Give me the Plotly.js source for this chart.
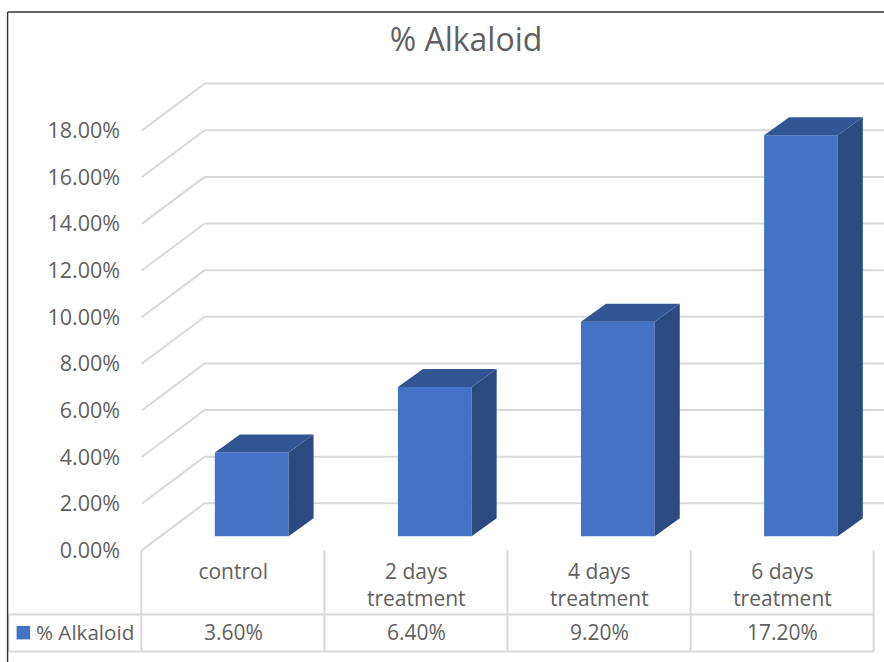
<!DOCTYPE html>
<html>
<head>
<meta charset="utf-8">
<script src="https://cdn.plot.ly/plotly-3.0.1.min.js"></script>
<style>html,body{margin:0;padding:0;background:#fff;overflow:hidden}</style>
</head>
<body>
<div id="chart" style="width:884px;height:662px"></div>
<script>
const categories = ["control", "2 days<br>treatment", "4 days<br>treatment", "6 days<br>treatment"];
const alkaloid = [0.036, 0.064, 0.092, 0.172];
const yTicks = [0, 0.02, 0.04, 0.06, 0.08, 0.10, 0.12, 0.14, 0.16, 0.18];
const seriesName = "% Alkaloid";

const W = 884, H = 662, pxX = 183, pxY = 2330;
const FONT = '"Open Sans", sans-serif', TEXT = "#5F5F5F", GRID = "#D9D9D9";
const xMin = -0.52, xMax = xMin + (W - 138.34) / pxX;
const yMin = -0.002, plotTop = 60, plotBottom = 550 - yMin * pxY;
const yMax = (plotBottom - plotTop) / pxY + yMin;
const wallDx = 63 / pxX, wallDy = 47 / pxY;
const barShift = 18.5 / pxX, barBase = 14 / pxY, barW = 73.7 / pxX;
const depthX = 25 / pxX, depthY = 18 / pxY;
const idx = categories.map((_, i) => i);

const px = v => (v - 138.34) / (W - 138.34);
const py = v => (plotBottom - v) / (plotBottom - plotTop);
const colEdge = i => 141.66 + i * pxX;

const shapes = [];
yTicks.forEach(v => {
  shapes.push({type: "line", layer: "below", xref: "x", yref: "y", x0: -0.5, y0: v, x1: -0.5 + wallDx, y1: v + wallDy, line: {color: GRID, width: 2}});
  shapes.push({type: "line", layer: "below", xref: "x", yref: "y", x0: -0.5 + wallDx, y0: v + wallDy, x1: xMax, y1: v + wallDy, line: {color: GRID, width: 2}});
});
function tableLine(x0, y0, x1, y1) {
  shapes.push({type: "line", layer: "below", xref: "paper", yref: "paper", x0: px(x0), y0: py(y0), x1: px(x1), y1: py(y1), line: {color: GRID, width: 2}});
}
[0, 1, 2, 3, 4].forEach(i => tableLine(colEdge(i), 550, colEdge(i), 651));
tableLine(9, 614, colEdge(4), 614);
tableLine(9, 651, colEdge(4), 651);
tableLine(9, 614, 9, 651);
// picture frame
shapes.push({type: "line", xref: "paper", yref: "paper", x0: px(8), y0: py(12), x1: px(884), y1: py(12), line: {color: "#333333", width: 1.4}});
shapes.push({type: "line", xref: "paper", yref: "paper", x0: px(8), y0: py(12), x1: px(8), y1: py(662), line: {color: "#333333", width: 1.4}});
// legend key
shapes.push({type: "rect", xref: "paper", yref: "paper", x0: px(17), x1: px(30.5), y0: py(625.5), y1: py(639), fillcolor: "#4472C4", line: {width: 0}});

const annotations = alkaloid.map((v, i) => ({
  xref: "x", yref: "paper", x: i, y: py(632), yanchor: "middle", xanchor: "center", showarrow: false,
  text: (v * 100).toFixed(2) + "%", font: {family: FONT, size: 21, color: TEXT}
}));
annotations.push({xref: "paper", yref: "paper", x: px(35), y: py(632), xanchor: "left", yanchor: "middle", showarrow: false,
  borderpad: 0, text: seriesName, font: {family: FONT, size: 20.6, color: TEXT}});

const faces = [];
idx.forEach(i => {
  const x1 = i + barShift + barW / 2, x0 = x1 - barW, top = barBase + alkaloid[i];
  faces.push({type: "scatter", mode: "lines", x: [x1, x1, x1 + depthX, x1 + depthX, x1], y: [barBase, top, top + depthY, barBase + depthY, barBase],
    fill: "toself", fillcolor: "#2A4A80", line: {width: 0, color: "#2A4A80"}, hoverinfo: "skip", showlegend: false});
  faces.push({type: "scatter", mode: "lines", x: [x0, x1, x1 + depthX, x0 + depthX, x0], y: [top, top, top + depthY, top + depthY, top],
    fill: "toself", fillcolor: "#325594", line: {width: 0, color: "#325594"}, hoverinfo: "skip", showlegend: false});
});

const bars = {type: "bar", name: seriesName, x: idx.map(i => i + barShift), y: alkaloid, base: idx.map(() => barBase),
  width: barW, marker: {color: "#4472C4", line: {width: 0}}, showlegend: false};

Plotly.newPlot("chart", [bars].concat(faces), {
  width: W, height: H, autosize: false,
  paper_bgcolor: "#fff", plot_bgcolor: "rgba(0,0,0,0)",
  margin: {l: 138.34, r: 0, t: plotTop, b: H - plotBottom, pad: 0},
  title: {text: seriesName, x: 466 / W, xref: "container", xanchor: "center", y: 1 - 40 / H, yref: "container", yanchor: "middle",
    font: {family: FONT, size: 32, color: TEXT}},
  showlegend: false,
  xaxis: {type: "linear", range: [xMin, xMax], tickmode: "array", tickvals: idx, ticktext: categories, tickangle: 0,
    showgrid: false, zeroline: false, showline: false, ticks: "", ticklabelstandoff: 2,
    tickfont: {family: FONT, size: 21, color: TEXT}},
  yaxis: {range: [yMin, yMax], tickmode: "array", tickvals: yTicks, tickformat: ".2%",
    showgrid: false, zeroline: false, showline: false, ticks: "", ticklabelstandoff: 17,
    tickfont: {family: FONT, size: 21.5, color: TEXT}},
  shapes: shapes, annotations: annotations
}, {displayModeBar: false, staticPlot: true});
</script>
</body>
</html>
